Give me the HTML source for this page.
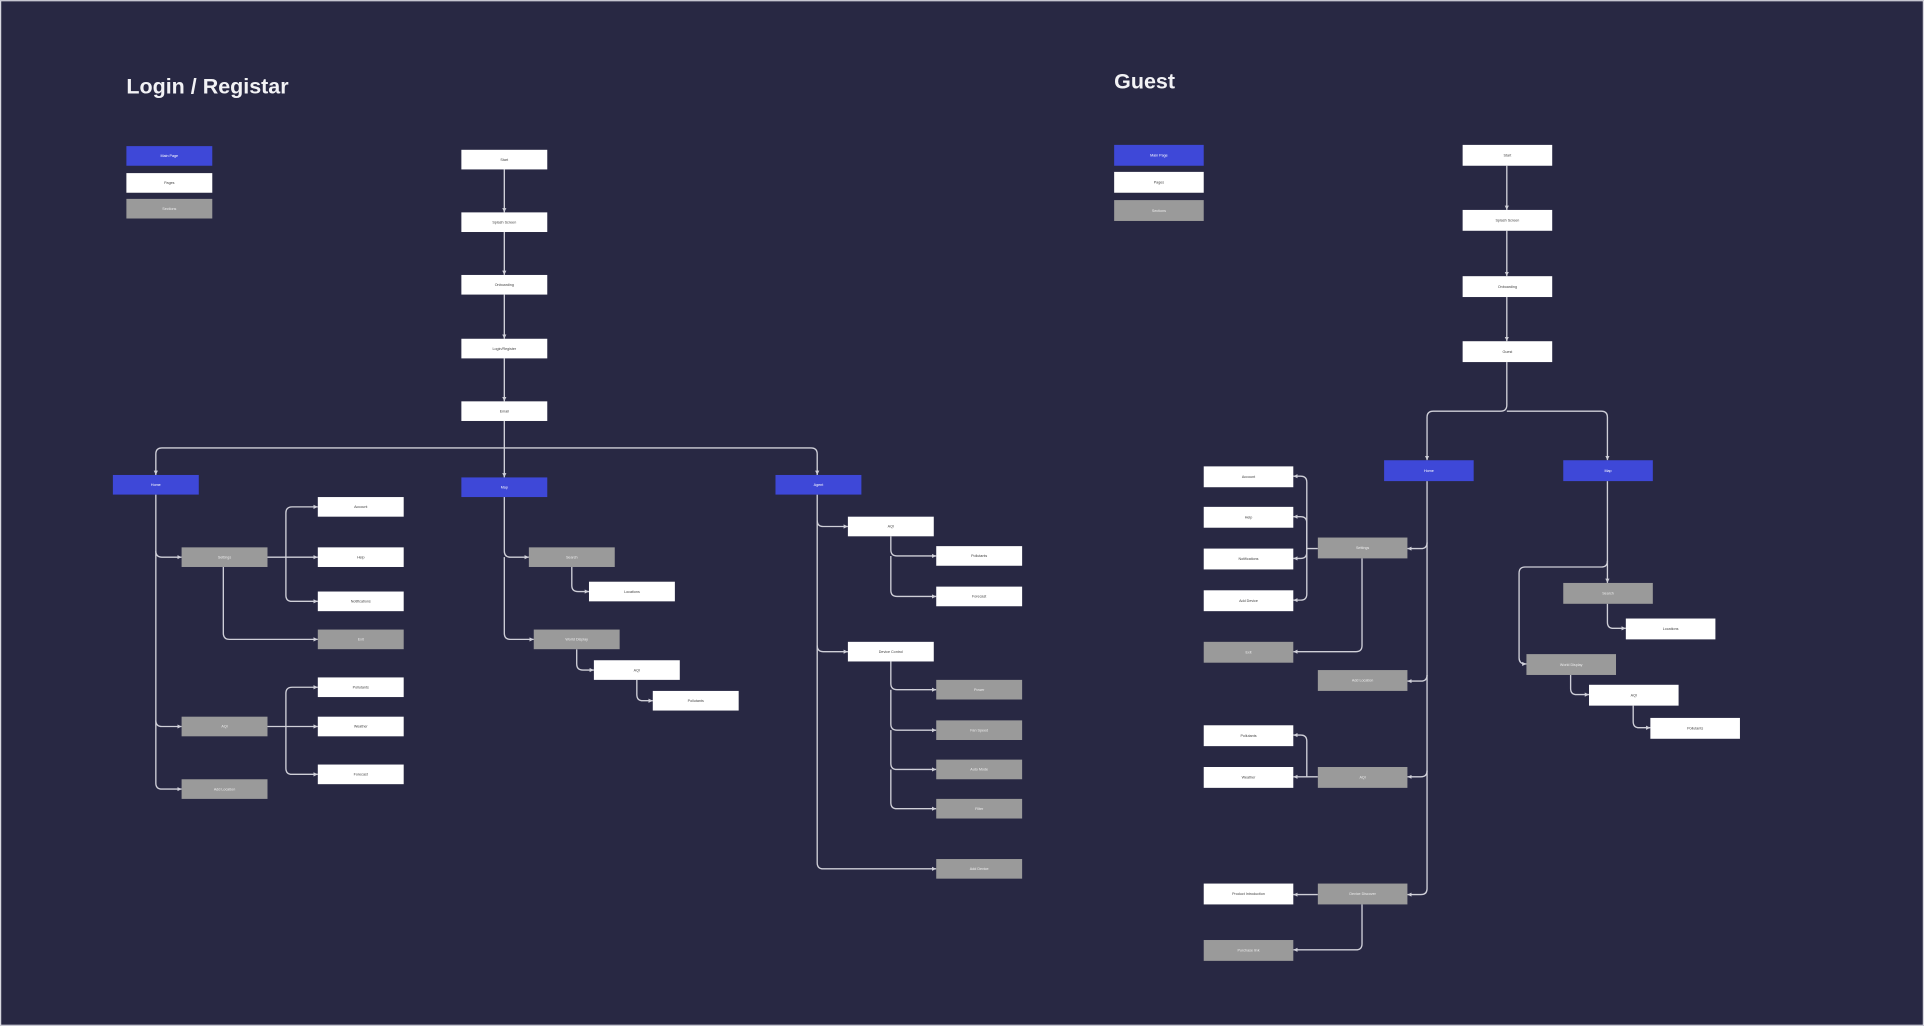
<!DOCTYPE html>
<html><head><meta charset="utf-8"><style>
html,body{margin:0;padding:0;background:#282843;}
svg{display:block}
text{font-family:"Liberation Sans",sans-serif;}
</style></head><body>
<svg width="1924" height="1026" viewBox="0 0 1568 836" xmlns="http://www.w3.org/2000/svg">
<defs>
<marker id="a" markerWidth="4" markerHeight="4" refX="3.5" refY="2" orient="auto" markerUnits="userSpaceOnUse">
<path d="M0,0.3 L3.5,2 L0,3.7 z" fill="#cfcfd8"/></marker>
</defs>
<rect x="0" y="0" width="1568" height="836" fill="#282843"/>
<rect x="0.5" y="0.5" width="1567" height="835" fill="none" stroke="#d8d8e0" stroke-width="1"/>

<text x="103" y="76" font-size="17.5" font-weight="bold" fill="#f2f2f5">Login / Registar</text>
<text x="908" y="72" font-size="17.5" font-weight="bold" fill="#f2f2f5">Guest</text>

<g fill="none" stroke="#cfcfd8" stroke-width="1.1">
<!-- LEFT -->
<path d="M411 138V173" marker-end="url(#a)"/>
<path d="M411 189V224" marker-end="url(#a)"/>
<path d="M411 240V276" marker-end="url(#a)"/>
<path d="M411 292V327" marker-end="url(#a)"/>
<path d="M411 343V389" marker-end="url(#a)"/>
<path d="M127 387V370Q127 365 132 365H661Q666 365 666 370V387" marker-end="url(#a)"/>
<path d="M127 386V387" marker-end="url(#a)"/>
<path d="M127 403V638Q127 643 132 643H148" marker-end="url(#a)"/>
<path d="M127 449Q127 454 132 454H148" marker-end="url(#a)"/>
<path d="M127 587Q127 592 132 592H148" marker-end="url(#a)"/>
<path d="M218 454H259" marker-end="url(#a)"/>
<path d="M233 454V418Q233 413 238 413H259" marker-end="url(#a)"/>
<path d="M233 454V485Q233 490 238 490H259" marker-end="url(#a)"/>
<path d="M182 462V516Q182 521 187 521H259" marker-end="url(#a)"/>
<path d="M218 592H259" marker-end="url(#a)"/>
<path d="M233 592V565Q233 560 238 560H259" marker-end="url(#a)"/>
<path d="M233 592V626Q233 631 238 631H259" marker-end="url(#a)"/>
<path d="M411 405V449Q411 454 416 454H431" marker-end="url(#a)"/>
<path d="M411 454V516Q411 521 416 521H435" marker-end="url(#a)"/>
<path d="M466 462V477Q466 482 471 482H480" marker-end="url(#a)"/>
<path d="M470 529V541Q470 546 475 546H484" marker-end="url(#a)"/>
<path d="M519 554V566Q519 571 524 571H532" marker-end="url(#a)"/>
<path d="M666 403V703Q666 708 671 708H763" marker-end="url(#a)"/>
<path d="M666 424Q666 429 671 429H691" marker-end="url(#a)"/>
<path d="M666 526Q666 531 671 531H691" marker-end="url(#a)"/>
<path d="M726 437V448Q726 453 731 453H763" marker-end="url(#a)"/>
<path d="M726 453V481Q726 486 731 486H763" marker-end="url(#a)"/>
<path d="M726 539V557Q726 562 731 562H763" marker-end="url(#a)"/>
<path d="M726 562V590Q726 595 731 595H763" marker-end="url(#a)"/>
<path d="M726 595V622Q726 627 731 627H763" marker-end="url(#a)"/>
<path d="M726 627V654Q726 659 731 659H763" marker-end="url(#a)"/>
<!-- RIGHT -->
<path d="M1228 135V171" marker-end="url(#a)"/>
<path d="M1228 188V225" marker-end="url(#a)"/>
<path d="M1228 242V278" marker-end="url(#a)"/>
<path d="M1228 295V330Q1228 335 1223 335H1168Q1163 335 1163 340V375" marker-end="url(#a)"/>
<path d="M1228 335H1305Q1310 335 1310 340V375" marker-end="url(#a)"/>
<path d="M1163 392V724Q1163 729 1158 729H1147" marker-end="url(#a)"/>
<path d="M1163 442Q1163 447 1158 447H1147" marker-end="url(#a)"/>
<path d="M1163 550Q1163 555 1158 555H1147" marker-end="url(#a)"/>
<path d="M1163 628Q1163 633 1158 633H1147" marker-end="url(#a)"/>
<path d="M1074 447H1065V393Q1065 388 1060 388H1054" marker-end="url(#a)"/>
<path d="M1065 447V426Q1065 421 1060 421H1054" marker-end="url(#a)"/>
<path d="M1065 447V450Q1065 455 1060 455H1054" marker-end="url(#a)"/>
<path d="M1065 447V484Q1065 489 1060 489H1054" marker-end="url(#a)"/>
<path d="M1110 455V526Q1110 531 1105 531H1054" marker-end="url(#a)"/>
<path d="M1074 633H1054" marker-end="url(#a)"/>
<path d="M1065 633V604Q1065 599 1060 599H1054" marker-end="url(#a)"/>
<path d="M1074 729H1054" marker-end="url(#a)"/>
<path d="M1110 737V769Q1110 774 1105 774H1054" marker-end="url(#a)"/>
<path d="M1310 392V475" marker-end="url(#a)"/>
<path d="M1310 457Q1310 462 1305 462H1243Q1238 462 1238 467V536Q1238 541 1243 541H1244" marker-end="url(#a)"/>
<path d="M1310 492V507Q1310 512 1315 512H1325" marker-end="url(#a)"/>
<path d="M1280 550V561Q1280 566 1285 566H1295" marker-end="url(#a)"/>
<path d="M1331 575V588Q1331 593 1336 593H1345" marker-end="url(#a)"/>
</g>

<g font-size="3" text-anchor="middle">
<!-- left boxes: w70 h16 -->
<g>
<rect x="103" y="119" width="70" height="16" fill="#3e48d8"/><text x="138" y="128" fill="#fff">Main Page</text>
<rect x="103" y="141" width="70" height="16" fill="#fff"/><text x="138" y="150" fill="#444">Pages</text>
<rect x="103" y="162" width="70" height="16" fill="#9a9a9a"/><text x="138" y="171" fill="#eee">Sections</text>

<rect x="376" y="122" width="70" height="16" fill="#fff"/><text x="411" y="131" fill="#444">Start</text>
<rect x="376" y="173" width="70" height="16" fill="#fff"/><text x="411" y="182" fill="#444">Splash Screen</text>
<rect x="376" y="224" width="70" height="16" fill="#fff"/><text x="411" y="233" fill="#444">Onboarding</text>
<rect x="376" y="276" width="70" height="16" fill="#fff"/><text x="411" y="285" fill="#444">Login/Register</text>
<rect x="376" y="327" width="70" height="16" fill="#fff"/><text x="411" y="336" fill="#444">Email</text>

<rect x="92" y="387" width="70" height="16" fill="#3e48d8"/><text x="127" y="396" fill="#fff">Home</text>
<rect x="376" y="389" width="70" height="16" fill="#3e48d8"/><text x="411" y="398" fill="#fff">Map</text>
<rect x="632" y="387" width="70" height="16" fill="#3e48d8"/><text x="667" y="396" fill="#fff">Agent</text>

<rect x="148" y="446" width="70" height="16" fill="#9a9a9a"/><text x="183" y="455" fill="#eee">Settings</text>
<rect x="259" y="405" width="70" height="16" fill="#fff"/><text x="294" y="414" fill="#444">Account</text>
<rect x="259" y="446" width="70" height="16" fill="#fff"/><text x="294" y="455" fill="#444">Help</text>
<rect x="259" y="482" width="70" height="16" fill="#fff"/><text x="294" y="491" fill="#444">Notifications</text>
<rect x="259" y="513" width="70" height="16" fill="#9a9a9a"/><text x="294" y="522" fill="#eee">Exit</text>
<rect x="148" y="584" width="70" height="16" fill="#9a9a9a"/><text x="183" y="593" fill="#eee">AQI</text>
<rect x="259" y="552" width="70" height="16" fill="#fff"/><text x="294" y="561" fill="#444">Pollutants</text>
<rect x="259" y="584" width="70" height="16" fill="#fff"/><text x="294" y="593" fill="#444">Weather</text>
<rect x="259" y="623" width="70" height="16" fill="#fff"/><text x="294" y="632" fill="#444">Forecast</text>
<rect x="148" y="635" width="70" height="16" fill="#9a9a9a"/><text x="183" y="644" fill="#eee">Add Location</text>

<rect x="431" y="446" width="70" height="16" fill="#9a9a9a"/><text x="466" y="455" fill="#eee">Search</text>
<rect x="480" y="474" width="70" height="16" fill="#fff"/><text x="515" y="483" fill="#444">Locations</text>
<rect x="435" y="513" width="70" height="16" fill="#9a9a9a"/><text x="470" y="522" fill="#eee">World Display</text>
<rect x="484" y="538" width="70" height="16" fill="#fff"/><text x="519" y="547" fill="#444">AQI</text>
<rect x="532" y="563" width="70" height="16" fill="#fff"/><text x="567" y="572" fill="#444">Pollutants</text>

<rect x="691" y="421" width="70" height="16" fill="#fff"/><text x="726" y="430" fill="#444">AQI</text>
<rect x="763" y="445" width="70" height="16" fill="#fff"/><text x="798" y="454" fill="#444">Pollutants</text>
<rect x="763" y="478" width="70" height="16" fill="#fff"/><text x="798" y="487" fill="#444">Forecast</text>
<rect x="691" y="523" width="70" height="16" fill="#fff"/><text x="726" y="532" fill="#444">Device Control</text>
<rect x="763" y="554" width="70" height="16" fill="#9a9a9a"/><text x="798" y="563" fill="#eee">Power</text>
<rect x="763" y="587" width="70" height="16" fill="#9a9a9a"/><text x="798" y="596" fill="#eee">Fan Speed</text>
<rect x="763" y="619" width="70" height="16" fill="#9a9a9a"/><text x="798" y="628" fill="#eee">Auto Mode</text>
<rect x="763" y="651" width="70" height="16" fill="#9a9a9a"/><text x="798" y="660" fill="#eee">Filter</text>
<rect x="763" y="700" width="70" height="16" fill="#9a9a9a"/><text x="798" y="709" fill="#eee">Add Device</text>
</g>
<!-- right boxes: w73 h17 -->
<g>
<rect x="908" y="118" width="73" height="17" fill="#3e48d8"/><text x="944.5" y="127.5" fill="#fff">Main Page</text>
<rect x="908" y="140" width="73" height="17" fill="#fff"/><text x="944.5" y="149.5" fill="#444">Pages</text>
<rect x="908" y="163" width="73" height="17" fill="#9a9a9a"/><text x="944.5" y="172.5" fill="#eee">Sections</text>

<rect x="1192" y="118" width="73" height="17" fill="#fff"/><text x="1228.5" y="127.5" fill="#444">Start</text>
<rect x="1192" y="171" width="73" height="17" fill="#fff"/><text x="1228.5" y="180.5" fill="#444">Splash Screen</text>
<rect x="1192" y="225" width="73" height="17" fill="#fff"/><text x="1228.5" y="234.5" fill="#444">Onboarding</text>
<rect x="1192" y="278" width="73" height="17" fill="#fff"/><text x="1228.5" y="287.5" fill="#444">Guest</text>

<rect x="1128" y="375" width="73" height="17" fill="#3e48d8"/><text x="1164.5" y="384.5" fill="#fff">Home</text>
<rect x="1274" y="375" width="73" height="17" fill="#3e48d8"/><text x="1310.5" y="384.5" fill="#fff">Map</text>

<rect x="1074" y="438" width="73" height="17" fill="#9a9a9a"/><text x="1110.5" y="447.5" fill="#eee">Settings</text>
<rect x="981" y="380" width="73" height="17" fill="#fff"/><text x="1017.5" y="389.5" fill="#444">Account</text>
<rect x="981" y="413" width="73" height="17" fill="#fff"/><text x="1017.5" y="422.5" fill="#444">Help</text>
<rect x="981" y="447" width="73" height="17" fill="#fff"/><text x="1017.5" y="456.5" fill="#444">Notifications</text>
<rect x="981" y="481" width="73" height="17" fill="#fff"/><text x="1017.5" y="490.5" fill="#444">Add Device</text>
<rect x="981" y="523" width="73" height="17" fill="#9a9a9a"/><text x="1017.5" y="532.5" fill="#eee">Exit</text>
<rect x="1074" y="546" width="73" height="17" fill="#9a9a9a"/><text x="1110.5" y="555.5" fill="#eee">Add Location</text>
<rect x="981" y="591" width="73" height="17" fill="#fff"/><text x="1017.5" y="600.5" fill="#444">Pollutants</text>
<rect x="981" y="625" width="73" height="17" fill="#fff"/><text x="1017.5" y="634.5" fill="#444">Weather</text>
<rect x="1074" y="625" width="73" height="17" fill="#9a9a9a"/><text x="1110.5" y="634.5" fill="#eee">AQI</text>
<rect x="981" y="720" width="73" height="17" fill="#fff"/><text x="1017.5" y="729.5" fill="#444">Product Introduction</text>
<rect x="1074" y="720" width="73" height="17" fill="#9a9a9a"/><text x="1110.5" y="729.5" fill="#eee">Device Discover</text>
<rect x="981" y="766" width="73" height="17" fill="#9a9a9a"/><text x="1017.5" y="775.5" fill="#eee">Purchase link</text>

<rect x="1274" y="475" width="73" height="17" fill="#9a9a9a"/><text x="1310.5" y="484.5" fill="#eee">Search</text>
<rect x="1325" y="504" width="73" height="17" fill="#fff"/><text x="1361.5" y="513.5" fill="#444">Locations</text>
<rect x="1244" y="533" width="73" height="17" fill="#9a9a9a"/><text x="1280.5" y="542.5" fill="#eee">World Display</text>
<rect x="1295" y="558" width="73" height="17" fill="#fff"/><text x="1331.5" y="567.5" fill="#444">AQI</text>
<rect x="1345" y="585" width="73" height="17" fill="#fff"/><text x="1381.5" y="594.5" fill="#444">Pollutants</text>
</g>
</g>
</svg>
</body></html>
